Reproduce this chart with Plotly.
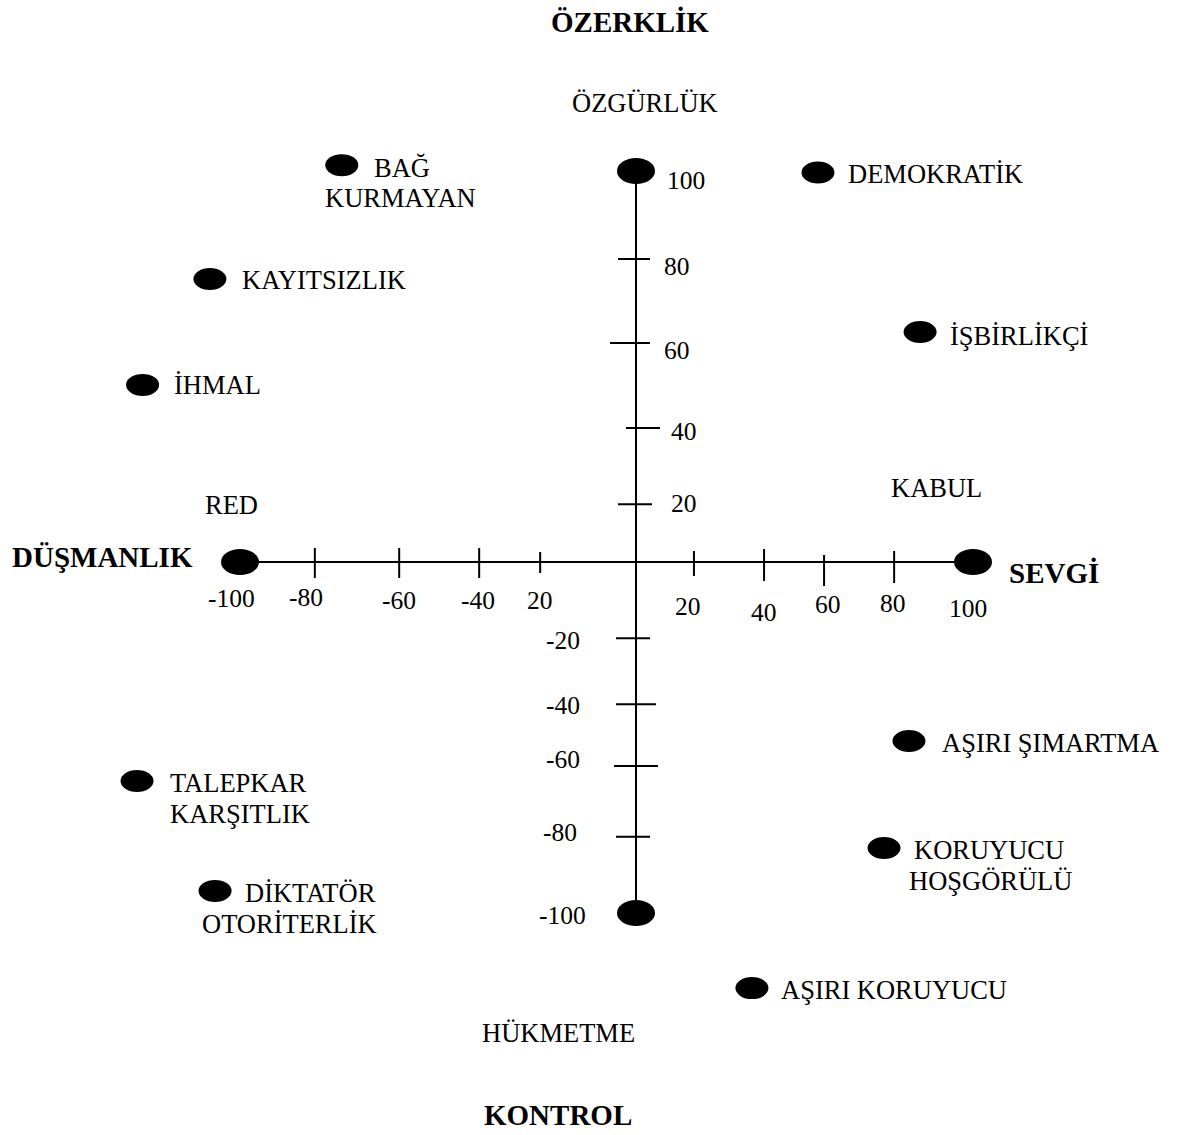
import plotly.graph_objects as go

# ---------------- data (diagram units) ----------------
style_names = ["BAĞ KURMAYAN", "KAYITSIZLIK", "İHMAL", "DEMOKRATİK", "İŞBİRLİKÇİ",
               "AŞIRI ŞIMARTMA", "KORUYUCU HOŞGÖRÜLÜ", "AŞIRI KORUYUCU",
               "TALEPKAR KARŞITLIK", "DİKTATÖR OTORİTERLİK"]
style_x = [-74.3, -107.6, -124.6, 54.0, 84.3, 81.0, 73.6, 34.4, -126.0, -106.3]
style_y = [101.5, 72.4, 45.3, 99.6, 58.8, -51.0, -81.5, -121.4, -62.4, -93.7]
label_lines = [["BAĞ", "KURMAYAN"], ["KAYITSIZLIK"], ["İHMAL"], ["DEMOKRATİK"],
               ["İŞBİRLİKÇİ"], ["AŞIRI ŞIMARTMA"], ["KORUYUCU", "HOŞGÖRÜLÜ"],
               ["AŞIRI KORUYUCU"], ["TALEPKAR", "KARŞITLIK"], ["DİKTATÖR", "OTORİTERLİK"]]

# horizontal axis (SEVGİ - DÜŞMANLIK): drawn tick marks and their labels
h_tick_pos = [-81.1, -59.8, -39.6, -24.2, 17.2, 38.0, 55.8, 76.6]
h_label_pos = [-100, -81.1, -59.8, -39.6, -24.2, 17.2, 38.0, 55.8, 76.6, 100]
h_label_text = ["-100", "-80", "-60", "-40", "20", "20", "40", "60", "80", "100"]

# vertical axis (ÖZERKLİK - KONTROL)
v_tick_pos = [77.5, 56.0, 34.3, 14.8, -21.7, -40.5, -58.1, -78.3]
v_label_pos = [100, 77.5, 56.0, 34.3, 14.8, -21.7, -40.5, -58.1, -78.3, -100]
v_label_text = ["100", "80", "60", "40", "20", "-20", "-40", "-60", "-80", "-100"]

axis_end = 100

# ---------------- styles / layout geometry ----------------
W, H = 1180, 1135
SERIF = "Liberation Serif, Times New Roman, serif"
FS_NUM = 25.5
FS = 26.5
BFS = 29
ORIGIN_X, ORIGIN_Y = 636, 562          # pixel position of the origin
PX_LEFT, PX_RIGHT = 3.96, 3.37          # pixels per unit
PX_UP, PX_DOWN = 3.91, 3.51

# label line offsets (dx to text left, dy to text centre; screen pixels) per style
label_offsets = [[(32, 3), (-17, 33)], [(32, 1)], [(31, 0)], [(30, 1)], [(30, 4)],
                 [(33, 2)], [(30, 2), (25, 33)], [(29, 2)], [(33, 2), (33, 33)],
                 [(30, 2), (-13, 33)]]
h_tick_ext = [(14, 16), (14, 16), (14, 16), (10, 11), (11, 14), (13, 19), (7, 24), (11, 21)]
v_tick_ext = [(18, 14), (26, 14), (10, 24), (18, 16), (20, 14), (20, 20), (22, 22), (20, 14)]
h_label_shift = [(-9, 36), (-9, 35), (0, 38), (-1, 38), (0, 38), (-6, 44), (0, 50), (4, 42), (-1, 41), (-5, 46)]
v_label_shift = [(50, 9), (41, 8), (41, 7), (48, 4), (48, -1), (-73, 2), (-73, 1), (-73, -6), (-76, -4), (-74, 2)]

XL_RANGE = [-155, 10]
XR_RANGE = [-10, 155]
YT_RANGE = [-10, 140]
YB_RANGE = [-150, 10]


def xdom(rng, k):
    a = ORIGIN_X + rng[0] * k
    b = ORIGIN_X + rng[1] * k
    return [a / W, b / W]


def ydom(rng, k):
    top = ORIGIN_Y - rng[1] * k
    bot = ORIGIN_Y - rng[0] * k
    return [1 - bot / H, 1 - top / H]


def xref_of(x):
    return "x" if x < 0 else "x2"


def yref_of(y):
    return "y" if y >= 0 else "y2"


fig = go.Figure()

# axis lines
fig.add_trace(go.Scatter(x=[-axis_end, 0], y=[0, 0], xaxis="x", yaxis="y", mode="lines",
                         line=dict(color="black", width=2), hoverinfo="skip"))
fig.add_trace(go.Scatter(x=[0, axis_end], y=[0, 0], xaxis="x2", yaxis="y", mode="lines",
                         line=dict(color="black", width=2), hoverinfo="skip"))
fig.add_trace(go.Scatter(x=[0, 0], y=[0, axis_end], xaxis="x2", yaxis="y", mode="lines",
                         line=dict(color="black", width=2), hoverinfo="skip"))
fig.add_trace(go.Scatter(x=[0, 0], y=[-axis_end, 0], xaxis="x2", yaxis="y2", mode="lines",
                         line=dict(color="black", width=2), hoverinfo="skip"))

shapes = []
annotations = []

# axis end dots
for (ex, ey) in [(-axis_end, 0), (axis_end, 0), (0, axis_end), (0, -axis_end)]:
    shapes.append(dict(type="circle", xref=xref_of(ex) if ex != 0 else "x2",
                       yref=yref_of(ey), xsizemode="pixel", ysizemode="pixel",
                       xanchor=ex, yanchor=ey, x0=-19, x1=19, y0=-13, y1=13,
                       fillcolor="black", line=dict(width=0)))

# tick marks
for pos, (up, down) in zip(h_tick_pos, h_tick_ext):
    shapes.append(dict(type="line", xref=xref_of(pos), yref="y", x0=pos, x1=pos,
                       ysizemode="pixel", yanchor=0, y0=up, y1=-down,
                       line=dict(color="black", width=2)))
for pos, (left, right) in zip(v_tick_pos, v_tick_ext):
    shapes.append(dict(type="line", xref="x2", yref=yref_of(pos), y0=pos, y1=pos,
                       xsizemode="pixel", xanchor=0, x0=-left, x1=right,
                       line=dict(color="black", width=2)))

# style points (ellipses)
for sx, sy in zip(style_x, style_y):
    shapes.append(dict(type="circle", xref=xref_of(sx), yref=yref_of(sy),
                       xsizemode="pixel", ysizemode="pixel", xanchor=sx, yanchor=sy,
                       x0=-16.5, x1=16.5, y0=-11, y1=11,
                       fillcolor="black", line=dict(width=0)))
    fig.add_trace(go.Scatter(x=[sx], y=[sy], xaxis=xref_of(sx), yaxis=yref_of(sy),
                             mode="markers", marker=dict(size=20, opacity=0),
                             cliponaxis=False, hoverinfo="skip"))

# style labels
for sx, sy, lines, offs in zip(style_x, style_y, label_lines, label_offsets):
    for txt, (dx, dy) in zip(lines, offs):
        annotations.append(dict(text=txt, xref=xref_of(sx), yref=yref_of(sy), x=sx, y=sy,
                                xanchor="left", yanchor="middle", xshift=dx, yshift=-dy,
                                showarrow=False, font=dict(family=SERIF, size=FS, color="black"),
                                borderpad=0, borderwidth=0))

# axis numbers
for pos, txt, (dx, dy) in zip(h_label_pos, h_label_text, h_label_shift):
    annotations.append(dict(text=txt, xref=xref_of(pos), yref="y", x=pos, y=0,
                            xanchor="center", yanchor="middle", xshift=dx, yshift=-dy,
                            showarrow=False, font=dict(family=SERIF, size=FS_NUM, color="black")))
for pos, txt, (dx, dy) in zip(v_label_pos, v_label_text, v_label_shift):
    annotations.append(dict(text=txt, xref="x2", yref=yref_of(pos), x=0, y=pos,
                            xanchor="center", yanchor="middle", xshift=dx, yshift=-dy,
                            showarrow=False, font=dict(family=SERIF, size=FS_NUM, color="black")))

# region / pole titles (paper coordinates, pixel positions converted)
titles = [("<b>ÖZERKLİK</b>", 630, 22, "center", BFS),
          ("ÖZGÜRLÜK", 645, 103, "center", FS),
          ("KABUL", 936, 488, "center", FS),
          ("RED", 231, 505, "center", FS),
          ("<b>DÜŞMANLIK</b>", 10, 557, "left", BFS),
          ("<b>SEVGİ</b>", 1007, 573, "left", BFS),
          ("HÜKMETME", 558, 1033, "center", FS),
          ("<b>KONTROL</b>", 558, 1115, "center", BFS)]
for txt, px, py, xa, fs in titles:
    annotations.append(dict(text=txt, xref="paper", yref="paper", x=px / W, y=1 - py / H,
                            xanchor=xa, yanchor="middle", showarrow=False,
                            font=dict(family=SERIF, size=fs, color="black")))

hidden = dict(visible=False, fixedrange=True, showgrid=False, zeroline=False)
fig.update_layout(
    width=W, height=H, margin=dict(l=0, r=0, t=0, b=0),
    paper_bgcolor="white", plot_bgcolor="rgba(0,0,0,0)", showlegend=False,
    xaxis=dict(domain=xdom(XL_RANGE, PX_LEFT), range=XL_RANGE, anchor="y", **hidden),
    xaxis2=dict(domain=xdom(XR_RANGE, PX_RIGHT), range=XR_RANGE, anchor="y", **hidden),
    yaxis=dict(domain=ydom(YT_RANGE, PX_UP), range=YT_RANGE, anchor="x", **hidden),
    yaxis2=dict(domain=ydom(YB_RANGE, PX_DOWN), range=YB_RANGE, anchor="x", **hidden),
    shapes=shapes, annotations=annotations,
)

fig.write_html("out.html", config={"displayModeBar": False},
               post_script="document.body.style.margin='0';")
